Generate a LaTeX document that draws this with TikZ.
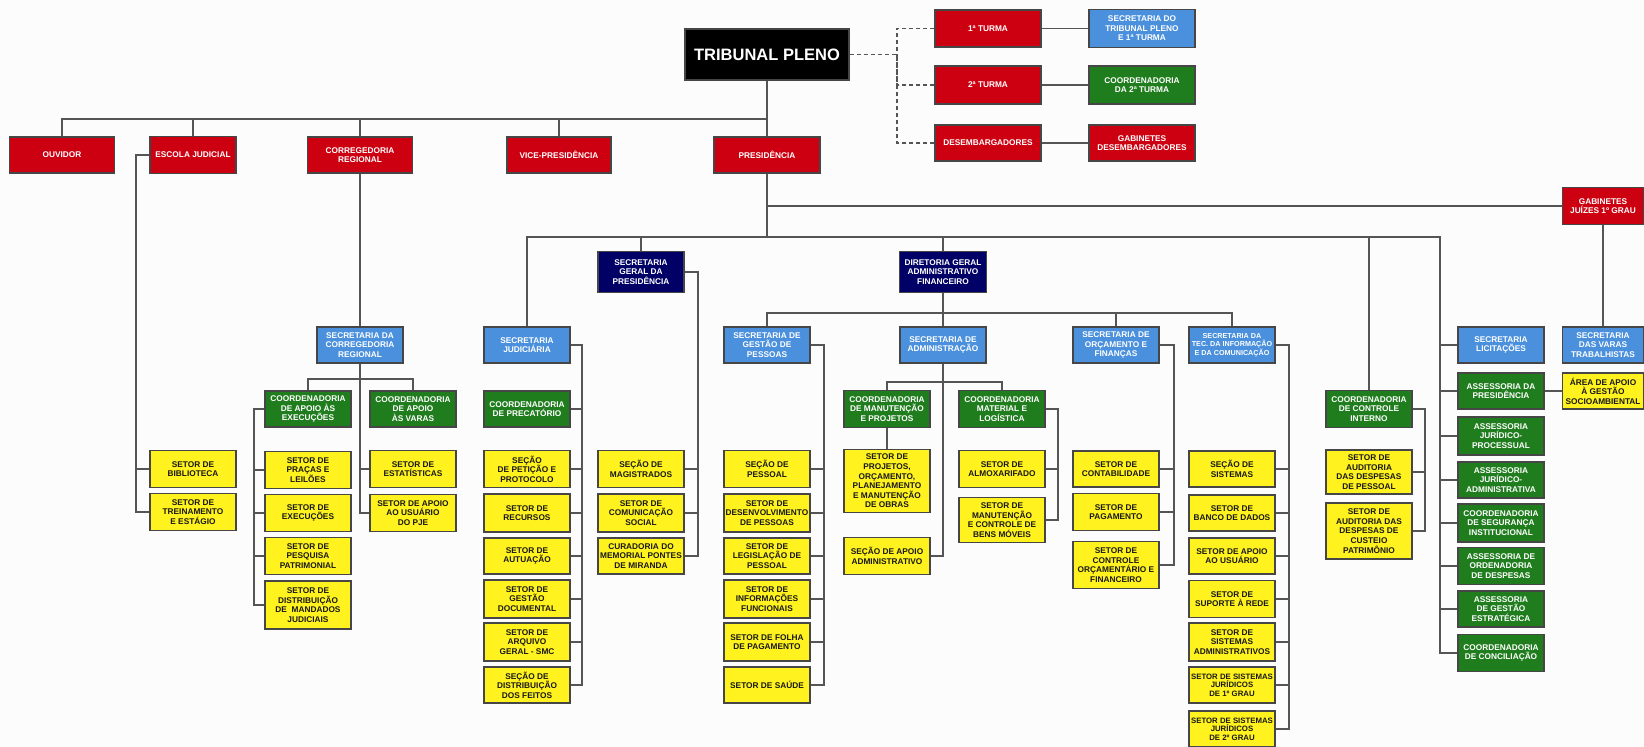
\documentclass[tikz,border=0pt]{standalone}
\usepackage{fontspec}
\setmainfont{Liberation Sans}
\usepackage{tikz}
\usetikzlibrary{calc,positioning}
\definecolor{orgBg}{RGB}{252,252,252}
\definecolor{orgRed}{RGB}{204,0,17}
\definecolor{orgBlue}{RGB}{74,144,220}
\definecolor{orgGreen}{RGB}{32,125,30}
\definecolor{orgNavy}{RGB}{0,0,102}
\definecolor{orgYellow}{RGB}{255,242,30}
\definecolor{orgLine}{RGB}{70,70,70}
\definecolor{orgWire}{RGB}{85,85,85}

\begin{document}
\begin{tikzpicture}[x=1pt,y=-1pt,
    box/.style={draw=orgLine, line width=1.1pt, align=center, inner xsep=0.5pt, inner ysep=1pt,
        minimum width=86pt, minimum height=37pt, font=\fontsize{8.3}{9.6}\selectfont\bfseries},
    redbox/.style={box, fill=orgRed, text=white},
    bluebox/.style={box, fill=orgBlue, text=white},
    greenbox/.style={box, fill=orgGreen, text=white},
    navybox/.style={box, fill=orgNavy, text=white, minimum height=41pt},
    yelbox/.style={box, fill=orgYellow, text=black!90},
    conn/.style={draw=orgWire, line width=1.2pt},
    dashconn/.style={conn, dashed, dash pattern=on 4pt off 3pt}]
    \fill[orgBg] (0,0) rectangle (1644,747);
    \useasboundingbox (0,0) rectangle (1644,747);

    \node[box, fill=black, text=white, minimum width=164pt, minimum height=51pt,
        font=\fontsize{16.5}{18}\selectfont\bfseries] (pleno) at (767,54.5) {TRIBUNAL PLENO};
    \node[redbox, minimum width=106pt] (turma1) at (988,28.5) {1ª TURMA};
    \node[redbox, minimum width=106pt, minimum height=38pt] (turma2) at (988,85) {2ª TURMA};
    \node[redbox, minimum width=106pt, minimum height=36pt] (desemb) at (988,143) {DESEMBARGADORES};
    \node[bluebox, minimum width=106pt, minimum height=38pt] (sectp) at (1142,28.5) {SECRETARIA DO\\TRIBUNAL PLENO\\E 1ª TURMA};
    \node[greenbox, minimum width=106pt, minimum height=38pt] (coord2t) at (1142,85) {COORDENADORIA\\DA 2ª TURMA};
    \node[redbox, minimum width=106pt, minimum height=36pt] (gabdes) at (1142,143) {GABINETES\\DESEMBARGADORES};

    \node[redbox, minimum width=105pt, minimum height=36pt] (ouv) at (62,155) {OUVIDOR};
    \node[redbox] (escola) at (193,155) {ESCOLA JUDICIAL};
    \node[redbox, minimum width=105pt, minimum height=36pt] (correg) at (360,155) {CORREGEDORIA\\REGIONAL};
    \node[redbox, minimum width=104pt, minimum height=36pt] (vice) at (559,155) {VICE-PRESIDÊNCIA};
    \node[redbox, minimum width=106pt, minimum height=36pt] (presid) at (767,155) {PRESIDÊNCIA};
    \node[redbox, minimum width=81pt] (gabj) at (1603,206) {GABINETES\\JUÍZES 1º GRAU};

    \node[yelbox] (biblio) at (193,469) {SETOR DE\\BIBLIOTECA};
    \node[yelbox] (trein) at (193,512) {SETOR DE\\TREINAMENTO\\E ESTÁGIO};

    \node[bluebox, minimum height=36pt] (secc) at (360,345) {SECRETARIA DA\\CORREGEDORIA\\REGIONAL};
    \node[greenbox, minimum height=36pt] (cexec) at (308,409) {COORDENADORIA\\DE APOIO ÀS\\EXECUÇÕES};
    \node[greenbox, minimum height=36pt] (cvaras) at (413,409) {COORDENADORIA\\DE APOIO\\ÀS VARAS};
    \node[yelbox] (pracas) at (308,470) {SETOR DE\\PRAÇAS E\\LEILÕES};
    \node[yelbox] (execu) at (308,513) {SETOR DE\\EXECUÇÕES};
    \node[yelbox] (pesq) at (308,556) {SETOR DE\\PESQUISA\\PATRIMONIAL};
    \node[yelbox, minimum height=48pt] (mand) at (308,605) {SETOR DE\\DISTRIBUIÇÃO\\DE\ \ MANDADOS\\JUDICIAIS};
    \node[yelbox] (estat) at (413,469) {SETOR DE\\ESTATÍSTICAS};
    \node[yelbox] (pje) at (413,513) {SETOR DE APOIO\\AO USUÁRIO\\DO PJE};

    \node[bluebox, minimum height=36pt] (sjud) at (527,345) {SECRETARIA\\JUDICIÁRIA};
    \node[greenbox, minimum height=36pt] (precat) at (527,409) {COORDENADORIA\\DE PRECATÓRIO};
    \node[yelbox] (petic) at (527,469) {SEÇÃO\\DE PETIÇÃO E\\PROTOCOLO};
    \node[yelbox, minimum height=38pt] (recur) at (527,513) {SETOR DE\\RECURSOS};
    \node[yelbox, minimum height=36pt] (autua) at (527,556) {SETOR DE\\AUTUAÇÃO};
    \node[yelbox, minimum height=38pt] (gdoc) at (527,599) {SETOR DE\\GESTÃO\\DOCUMENTAL};
    \node[yelbox, minimum height=38pt] (arqu) at (527,642) {SETOR DE\\ARQUIVO\\GERAL - SMC};
    \node[yelbox, minimum height=36pt] (distf) at (527,685) {SEÇÃO DE\\DISTRIBUIÇÃO\\DOS FEITOS};

    \node[navybox] (sgp) at (641,272) {SECRETARIA\\GERAL DA\\PRESIDÊNCIA};
    \node[yelbox] (magis) at (641,469) {SEÇÃO DE\\MAGISTRADOS};
    \node[yelbox, minimum height=38pt] (comsoc) at (641,513) {SETOR DE\\COMUNICAÇÃO\\SOCIAL};
    \node[yelbox, minimum height=36pt] (curad) at (641,556) {CURADORIA DO\\MEMORIAL PONTES\\DE MIRANDA};

    \node[navybox, minimum width=87pt] (dg) at (943,272) {DIRETORIA GERAL\\ADMINISTRATIVO\\FINANCEIRO};
    \node[bluebox, minimum height=36pt] (sgpes) at (767,345) {SECRETARIA DE\\GESTÃO DE\\PESSOAS};
    \node[yelbox] (spess) at (767,469) {SEÇÃO DE\\PESSOAL};
    \node[yelbox, minimum height=38pt] (sdesenv) at (767,513) {SETOR DE\\DESENVOLVIMENTO\\DE PESSOAS};
    \node[yelbox, minimum height=36pt] (slegis) at (767,556) {SETOR DE\\LEGISLAÇÃO DE\\PESSOAL};
    \node[yelbox, minimum height=38pt] (sinfo) at (767,599) {SETOR DE\\INFORMAÇÕES\\FUNCIONAIS};
    \node[yelbox, minimum height=38pt] (sfolha) at (767,642) {SETOR DE FOLHA\\DE PAGAMENTO};
    \node[yelbox, minimum height=36pt] (ssaude) at (767,685) {SETOR DE SAÚDE};

    \node[bluebox, minimum height=36pt] (sadm) at (943,345) {SECRETARIA DE\\ADMINISTRAÇÃO};
    \node[greenbox] (cman) at (887,409) {COORDENADORIA\\DE MANUTENÇÃO\\E PROJETOS};
    \node[yelbox, minimum height=63pt] (sproj) at (887,481) {SETOR DE\\PROJETOS,\\ORÇAMENTO,\\PLANEJAMENTO\\E MANUTENÇÃO\\DE OBRAS};
    \node[yelbox] (sapoio) at (887,556) {SEÇÃO DE APOIO\\ADMINISTRATIVO};
    \node[greenbox] (cmat) at (1002,409) {COORDENADORIA\\MATERIAL E\\LOGÍSTICA};
    \node[yelbox] (almox) at (1002,469) {SETOR DE\\ALMOXARIFADO};
    \node[yelbox, minimum height=45pt] (bens) at (1002,520) {SETOR DE\\MANUTENÇÃO\\E CONTROLE DE\\BENS MÓVEIS};

    \node[bluebox, minimum height=36pt] (sorc) at (1116,345) {SECRETARIA DE\\ORÇAMENTO E\\FINANÇAS};
    \node[yelbox, minimum height=36pt] (contab) at (1116,469) {SETOR DE\\CONTABILIDADE};
    \node[yelbox] (pagam) at (1116,512) {SETOR DE\\PAGAMENTO};
    \node[yelbox, minimum height=47pt] (ctrlorc) at (1116,565) {SETOR DE\\CONTROLE\\ORÇAMENTÁRIO E\\FINANCEIRO};

    \node[bluebox, minimum height=36pt, font=\fontsize{7.2}{8.5}\selectfont\bfseries] (sti) at (1232,345) {SECRETARIA DA\\TEC. DA INFORMAÇÃO\\E DA COMUNICAÇÃO};
    \node[yelbox, minimum height=36pt] (ssist) at (1232,469) {SEÇÃO DE\\SISTEMAS};
    \node[yelbox, minimum height=36pt] (sbanco) at (1232,513) {SETOR DE\\BANCO DE DADOS};
    \node[yelbox, minimum height=36pt] (sapusu) at (1232,556) {SETOR DE APOIO\\AO USUÁRIO};
    \node[yelbox] (srede) at (1232,599) {SETOR DE\\SUPORTE À REDE};
    \node[yelbox, minimum height=38pt] (ssadm) at (1232,642) {SETOR DE\\SISTEMAS\\ADMINISTRATIVOS};
    \node[yelbox, minimum height=36pt, font=\fontsize{7.8}{8.6}\selectfont\bfseries] (sjur1) at (1232,685) {SETOR DE SISTEMAS\\JURÍDICOS\\DE 1º GRAU};
    \node[yelbox, minimum height=36pt, font=\fontsize{7.8}{8.6}\selectfont\bfseries] (sjur2) at (1232,729) {SETOR DE SISTEMAS\\JURÍDICOS\\DE 2º GRAU};

    \node[greenbox] (cci) at (1369,409) {COORDENADORIA\\DE CONTROLE\\INTERNO};
    \node[yelbox, minimum height=44pt] (audpes) at (1369,472) {SETOR DE\\AUDITORIA\\DAS DESPESAS\\DE PESSOAL};
    \node[yelbox, minimum height=56pt] (audcus) at (1369,531) {SETOR DE\\AUDITORIA DAS\\DESPESAS DE\\CUSTEIO\\PATRIMÔNIO};

    \node[bluebox, minimum height=36pt] (licit) at (1501,345) {SECRETARIA\\LICITAÇÕES};
    \node[greenbox, minimum height=36pt] (asspres) at (1501,391) {ASSESSORIA DA\\PRESIDÊNCIA};
    \node[greenbox, minimum height=38pt] (assjp) at (1501,436) {ASSESSORIA\\JURÍDICO-\\PROCESSUAL};
    \node[greenbox, minimum height=36pt] (assja) at (1501,480) {ASSESSORIA\\JURÍDICO-\\ADMINISTRATIVA};
    \node[greenbox, minimum height=38pt] (cseg) at (1501,523) {COORDENADORIA\\DE SEGURANÇA\\INSTITUCIONAL};
    \node[greenbox] (assord) at (1501,566) {ASSESSORIA DE\\ORDENADORIA\\DE DESPESAS};
    \node[greenbox, minimum height=36pt] (assge) at (1501,609) {ASSESSORIA\\DE GESTÃO\\ESTRATÉGICA};
    \node[greenbox] (cconc) at (1501,653) {COORDENADORIA\\DE CONCILIAÇÃO};

    \node[bluebox, minimum width=81pt, minimum height=36pt] (svaras) at (1603,345) {SECRETARIA\\DAS VARAS\\TRABALHISTAS};
    \node[yelbox, minimum width=81pt, minimum height=36pt] (areaap) at (1603,391) {ÁREA DE APOIO\\À GESTÃO\\SOCIOAMBIENTAL};

    \coordinate (topbus) at (767,119);
    \coordinate (dj) at (897,54.5);
    \coordinate (pbus) at (767,237);
    \coordinate (rsp) at (1440,237);
    \coordinate (escsp) at (136,155);
    \coordinate (cbus) at (360,379);
    \coordinate (cexsp) at (254,409);
    \coordinate (sjsp) at (582,345);
    \coordinate (sgpsp) at (698,272);
    \coordinate (dbus) at (943,313);
    \coordinate (sgpessp) at (824,345);
    \coordinate (abus) at (943,382);
    \coordinate (cmatsp) at (1058,409);
    \coordinate (sorcsp) at (1174,345);
    \coordinate (stisp) at (1289,345);
    \coordinate (ccisp) at (1425,409);

    \draw[conn] (pleno) -- (presid);
    \draw[conn] (ouv.north) |- (topbus);
    \draw[conn] (escola.north) -- (escola.north |- topbus);
    \draw[conn] (correg.north) -- (correg.north |- topbus);
    \draw[conn] (vice.north) -- (vice.north |- topbus);
    \draw[dashconn] (pleno.east) -- (dj);
    \draw[dashconn] (turma1.west) -| (dj);
    \draw[dashconn] (turma2.west) -| (dj);
    \draw[dashconn] (desemb.west) -| (dj);
    \draw[conn] (turma1) -- (sectp);
    \draw[conn] (turma2) -- (coord2t);
    \draw[conn] (desemb) -- (gabdes);

    \draw[conn] (escola.west) -- (escsp) |- (trein.west);
    \draw[conn] (biblio.west) -- (biblio.west -| escsp);
    \draw[conn] (correg) -- (secc);
    \draw[conn] (secc.south) |- (pje.west);
    \draw[conn] (estat.west) -- (estat.west -| secc.south);
    \draw[conn] (cexec.north) |- (cbus) -| (cvaras.north);
    \draw[conn] (cexec.west) -- (cexsp) |- (mand.west);
    \draw[conn] (pracas.west) -- (pracas.west -| cexsp)
        (execu.west) -- (execu.west -| cexsp)
        (pesq.west) -- (pesq.west -| cexsp);

    \draw[conn] (presid.south) -- (pbus);
    \draw[conn] (gabj.west) -- (gabj.west -| presid.south);
    \draw[conn] (gabj) -- (svaras);
    \draw[conn] (sjud.north) |- (pbus) -- (rsp) |- (cconc.west);
    \draw[conn] (sgp.north) -- (sgp.north |- pbus);
    \draw[conn] (dg.north) -- (dg.north |- pbus);
    \draw[conn] (cci.north) -- (cci.north |- pbus);
    \draw[conn] (licit.west) -- (licit.west -| rsp)
        (asspres.west) -- (asspres.west -| rsp)
        (assjp.west) -- (assjp.west -| rsp)
        (assja.west) -- (assja.west -| rsp)
        (cseg.west) -- (cseg.west -| rsp)
        (assord.west) -- (assord.west -| rsp)
        (assge.west) -- (assge.west -| rsp);
    \draw[conn] (asspres) -- (areaap);

    \draw[conn] (sjud.east) -- (sjsp) |- (distf.east);
    \draw[conn] (precat.east) -- (precat.east -| sjsp)
        (petic.east) -- (petic.east -| sjsp)
        (recur.east) -- (recur.east -| sjsp)
        (autua.east) -- (autua.east -| sjsp)
        (gdoc.east) -- (gdoc.east -| sjsp)
        (arqu.east) -- (arqu.east -| sjsp);
    \draw[conn] (sgp.east) -- (sgpsp) |- (curad.east);
    \draw[conn] (magis.east) -- (magis.east -| sgpsp)
        (comsoc.east) -- (comsoc.east -| sgpsp);

    \draw[conn] (dg) -- (sadm);
    \draw[conn] (sgpes.north) |- (dbus) -| (sti.north);
    \draw[conn] (sorc.north) -- (sorc.north |- dbus);
    \draw[conn] (sgpes.east) -- (sgpessp) |- (ssaude.east);
    \draw[conn] (spess.east) -- (spess.east -| sgpessp)
        (sdesenv.east) -- (sdesenv.east -| sgpessp)
        (slegis.east) -- (slegis.east -| sgpessp)
        (sinfo.east) -- (sinfo.east -| sgpessp)
        (sfolha.east) -- (sfolha.east -| sgpessp);
    \draw[conn] (sadm.south) |- (sapoio.east);
    \draw[conn] (cman.north) |- (abus) -| (cmat.north);
    \draw[conn] (cman) -- (sproj);
    \draw[conn] (cmat.east) -- (cmatsp) |- (bens.east);
    \draw[conn] (almox.east) -- (almox.east -| cmatsp);
    \draw[conn] (sorc.east) -- (sorcsp) |- (ctrlorc.east);
    \draw[conn] (contab.east) -- (contab.east -| sorcsp)
        (pagam.east) -- (pagam.east -| sorcsp);
    \draw[conn] (sti.east) -- (stisp) |- (sjur2.east);
    \draw[conn] (ssist.east) -- (ssist.east -| stisp)
        (sbanco.east) -- (sbanco.east -| stisp)
        (sapusu.east) -- (sapusu.east -| stisp)
        (srede.east) -- (srede.east -| stisp)
        (ssadm.east) -- (ssadm.east -| stisp)
        (sjur1.east) -- (sjur1.east -| stisp);
    \draw[conn] (cci.east) -- (ccisp) |- (audcus.east);
    \draw[conn] (audpes.east) -- (audpes.east -| ccisp);
\end{tikzpicture}
\end{document}
